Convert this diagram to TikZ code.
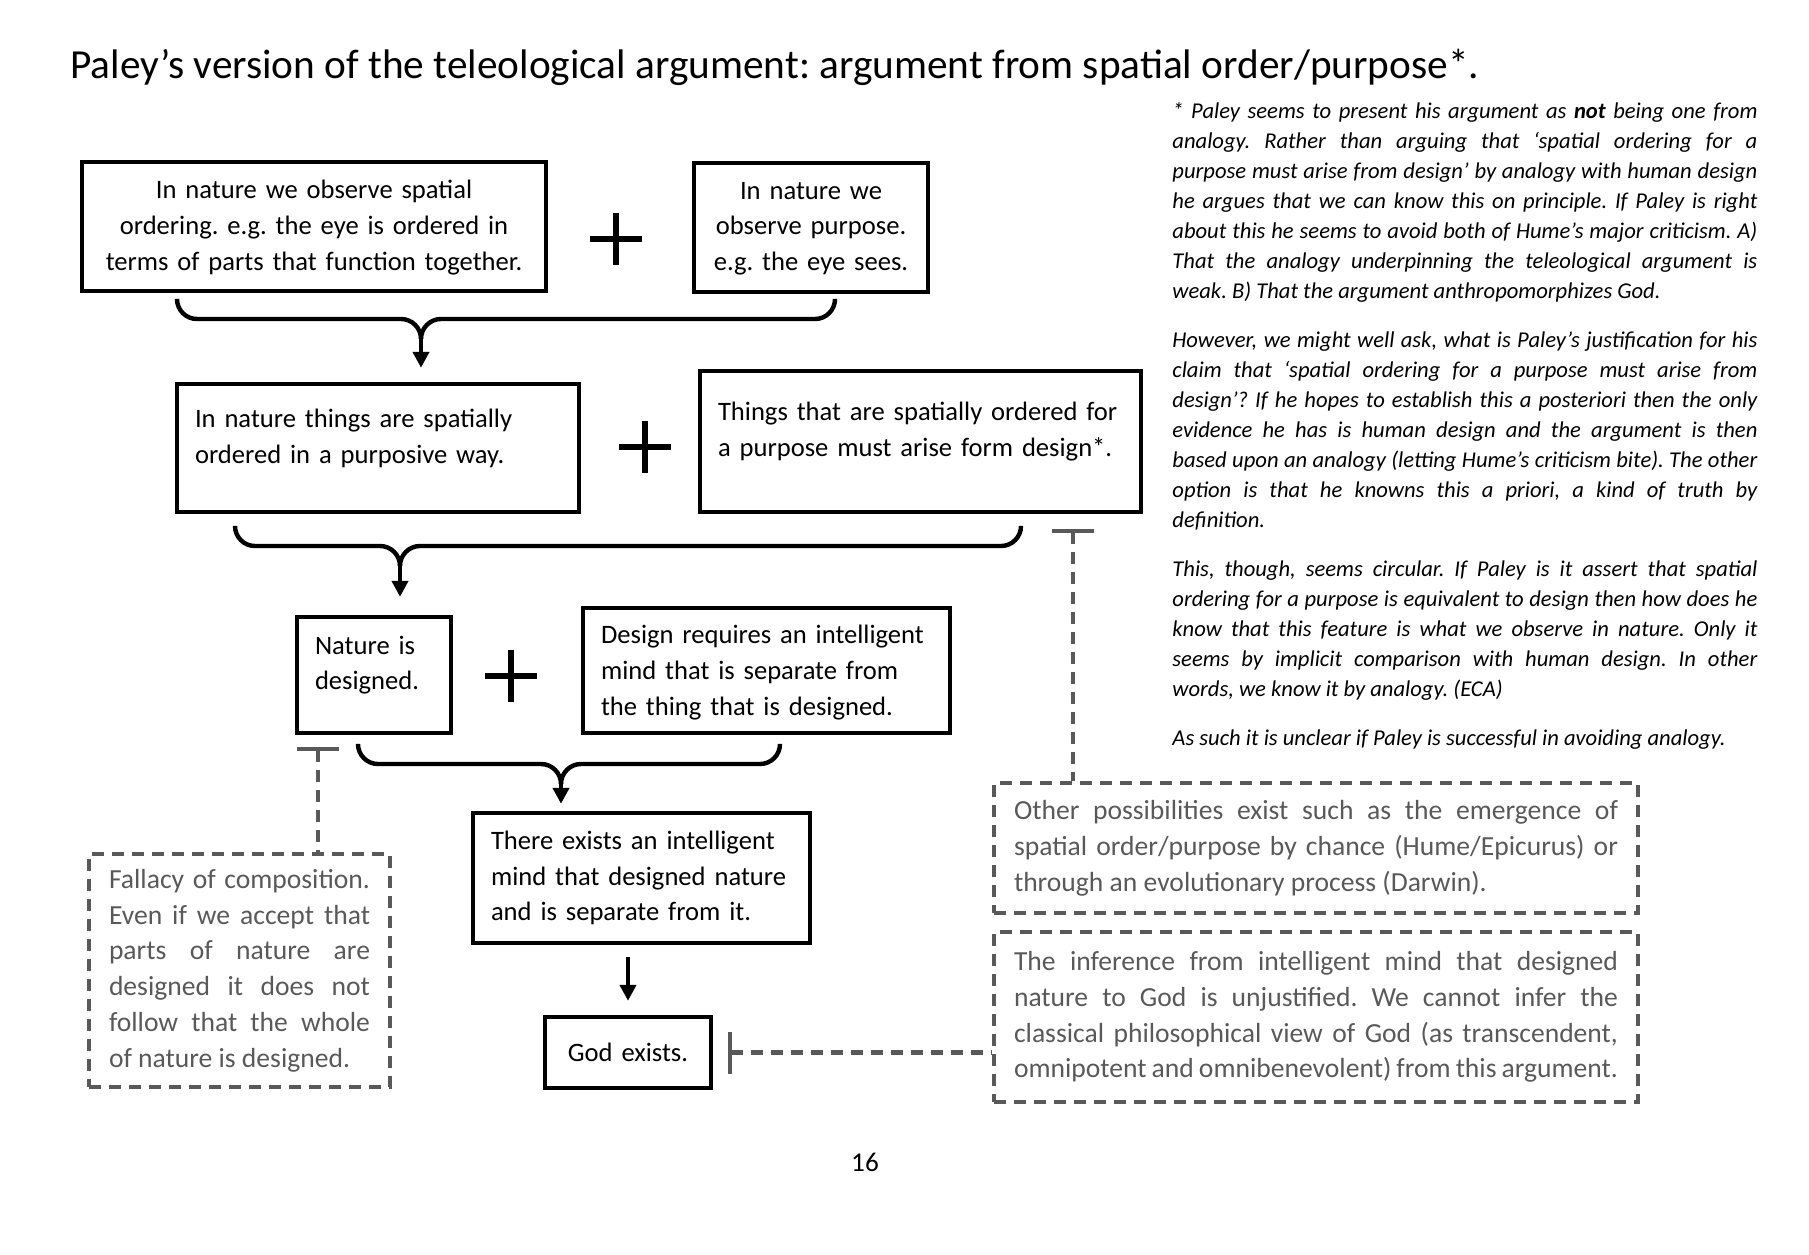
\documentclass[tikz,border=0pt]{standalone}
\usepackage{fontspec}
\setmainfont{Carlito}
\usepackage{xcolor}
\usepackage{tikz}
\usetikzlibrary{arrows.meta, positioning, calc}
\definecolor{criticColor}{RGB}{89, 89, 89}
\frenchspacing

\begin{document}
\begin{tikzpicture}[
    x=0.5pt, y=-0.5pt,
    box/.style={rectangle, draw, line width=2.2pt, inner xsep=9pt, inner ysep=6pt, font=\fontsize{13.3}{17.9}\selectfont},
    critic/.style={rectangle, draw=criticColor, line width=2pt, dash pattern=on 6pt off 4pt, text=criticColor, inner xsep=10pt, inner ysep=6pt, align=justify, font=\fontsize{13.8}{17.9}\selectfont},
    brace/.style={line width=2.2pt, rounded corners=10pt},
    arrow/.style={-{Triangle[length=8pt, width=8pt]}, line width=2pt},
    rebut/.style={{Bar[width=21pt, line width=2pt]}-, draw=criticColor, line width=2.2pt, dash pattern=on 6pt off 4pt},
    plus/.style={minimum size=26pt, inner sep=0pt, path picture={
        \draw[line width=2.8pt] (path picture bounding box.north) -- (path picture bounding box.south)
            (path picture bounding box.west) -- (path picture bounding box.east);}},
    note/.style={font=\fontsize{11.3}{15}\selectfont\itshape, text width=292.5pt, align=justify, inner sep=0pt, anchor=north west}
]
    \useasboundingbox (0,0) rectangle (1809,1254);

    % Title
    \node[anchor=base west, inner sep=0pt, font=\fontsize{20.66}{24}\selectfont] (title) at (70,78)
        {Paley’s version of the teleological argument: argument from spatial order/purpose*.};

    % First premises
    \node[box, align=center, inner xsep=4pt, text width=224pt, minimum height=64.5pt, text depth=37pt] (order) at (314,226.5)
        {In nature we observe spatial\\ordering. e.g. the eye is ordered in\\terms of parts that function together.};
    \node[plus] (plusA) at (616,239) {};
    \node[box, align=center, inner xsep=4pt, text width=109pt, minimum height=64.5pt, text depth=37pt] (purpose) at (811,227.5)
        {In nature we\\observe purpose.\\e.g. the eye sees.};

    % Second premises
    \node[box, align=left, text width=183pt, minimum height=64pt, text depth=30pt] (ordered) at (378,448)
        {In nature things are spatially\\ordered in a purposive way.};
    \node[plus] (plusB) at (645,447) {};
    \node[box, align=left, text width=202.5pt, minimum height=70.5pt, text depth=30pt] (design) at (920.5,441.5)
        {Things that are spatially ordered for\\a purpose must arise form design*.};

    % Third premises
    \node[box, align=left, text width=59pt, minimum height=58pt, text depth=30pt] (designed) at (374,675)
        {Nature is\\designed.};
    \node[plus] (plusC) at (511,676) {};
    \node[box, align=left, text width=165.5pt, minimum height=62.5pt, text depth=36pt] (mind) at (766.5,670.5)
        {Design requires an intelligent\\mind that is separate from\\the thing that is designed.};

    % Conclusions
    \node[box, align=left, text width=150.5pt, minimum height=65pt] (creator) at (641.5,878)
        {There exists an intelligent\\mind that designed nature\\and is separate from it.};
    \node[box, align=center, text width=65pt, minimum height=35.5pt] (god) at (628,1052.5) {God exists.};

    % Criticisms
    \node[critic, text width=130.5pt, minimum height=116.5pt] (fallacy) at (239.5,970.5)
        {Fallacy of composition.\linebreak Even if we accept that\linebreak parts of nature are\linebreak designed it does not\linebreak follow that the whole\linebreak of nature is designed.};
    \node[critic, text width=302pt, minimum height=65pt] (chance) at (1316,848)
        {Other possibilities exist such as the emergence of\linebreak spatial order/purpose by chance (Hume/Epicurus) or\linebreak through an evolutionary process (Darwin).};
    \node[critic, text width=302pt, minimum height=85pt] (leap) at (1316,1017)
        {The inference from intelligent mind that designed\linebreak nature to God is unjustified. We cannot infer the\linebreak classical philosophical view of God (as transcendent,\linebreak omnipotent and omnibenevolent) from this argument.};

    % Side notes
    \node[note] (notes) at (1172,102) {\setlength{\parskip}{9.5pt}%
        * Paley seems to present his argument as \textbf{not} being one from\linebreak
        analogy. Rather than arguing that ‘spatial ordering for a\linebreak
        purpose must arise from design’ by analogy with human design\linebreak
        he argues that we can know this on principle. If Paley is right\linebreak
        about this he seems to avoid both of Hume’s major criticism. A)\linebreak
        That the analogy underpinning the teleological argument is\linebreak
        weak. B) That the argument anthropomorphizes God.\par
        However, we might well ask, what is Paley’s justification for his\linebreak
        claim that ‘spatial ordering for a purpose must arise from\linebreak
        design’? If he hopes to establish this a posteriori then the only\linebreak
        evidence he has is human design and the argument is then\linebreak
        based upon an analogy (letting Hume’s criticism bite). The other\linebreak
        option is that he knowns this a priori, a kind of truth by\linebreak
        definition.\par
        This, though, seems circular. If Paley is it assert that spatial\linebreak
        ordering for a purpose is equivalent to design then how does he\linebreak
        know that this feature is what we observe in nature. Only it\linebreak
        seems by implicit comparison with human design. In other\linebreak
        words, we know it by analogy. (ECA)\par
        As such it is unclear if Paley is successful in avoiding analogy.};

    % Page number
    \node[font=\fontsize{13.6}{16}\selectfont] (page) at (865,1162) {16};

    % Braces
    \coordinate (joinA) at (421,338);
    \coordinate (joinB) at (400,565);
    \coordinate (joinC) at (561,783);
    \draw[brace] (177,302) |- (421,319) -- (joinA);
    \draw[brace] (835,302) |- (421,319) -- (joinA);
    \draw[brace] (235,528) |- (400,546) -- (joinB);
    \draw[brace] (1021,528) |- (400,546) -- (joinB);
    \draw[brace] (358,745) |- (561,764) -- (joinC);
    \draw[brace] (780,745) |- (561,764) -- (joinC);

    % Arrows
    \draw[arrow, shorten >=7pt] (joinA) -- (joinA |- ordered.north);
    \draw[arrow, shorten >=9pt] (joinB) -- (joinB |- designed.north);
    \draw[arrow, shorten >=3.5pt] (joinC) -- (joinC |- creator.north);
    \draw[arrow, shorten <=6pt, shorten >=7pt] (creator.south -| god.north) -- (god.north);

    % Objections
    \coordinate (barA) at ($(designed.south west)+(23,12)$);
    \coordinate (barB) at ($(design.south west)+(375,15)$);
    \coordinate (barC) at ($(god.east)+(15,0)$);
    \draw[rebut] (barA) -- (barA |- fallacy.north);
    \draw[rebut] (barB) -- (barB |- chance.north);
    \draw[rebut] (barC) -- (barC -| leap.west);

\end{tikzpicture}
\end{document}
